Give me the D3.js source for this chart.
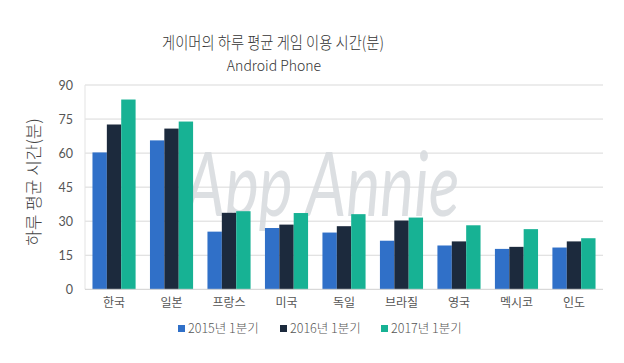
<!DOCTYPE html>
<html><head><meta charset="utf-8">
<script src="https://cdn.jsdelivr.net/npm/d3@7"></script>
<style>
body{margin:0;background:#fff;}
svg{display:block;font-family:"Noto Sans CJK KR","Noto Sans",sans-serif;}
</style></head>
<body><svg id="c" width="624" height="363"></svg>
<script>
const categories = ["한국","일본","프랑스","미국","독일","브라질","영국","멕시코","인도"];
const seriesNames = ["2015년 1분기","2016년 1분기","2017년 1분기"];
const s2015 = [60.3, 65.6, 25.4, 27.0, 25.0, 21.4, 19.3, 17.8, 18.4];
const s2016 = [72.6, 70.8, 33.7, 28.5, 27.8, 30.3, 21.1, 18.7, 21.1];
const s2017 = [83.6, 73.9, 34.4, 33.6, 33.1, 31.6, 28.2, 26.5, 22.5];
const yTicks = [0, 15, 30, 45, 60, 75, 90];
const colors = ["#3070c8", "#1c2a3d", "#17b294"];

const series = [s2015, s2016, s2017];
const svg = d3.select("#c");
const L = 85, R = 603, T = 85, B = 289.3;

const x = d3.scaleBand().domain(categories).range([L, R]).paddingInner(0.25).paddingOuter(0.13);
const xs = d3.scaleBand().domain(d3.range(3)).range([0, x.bandwidth()]);
const y = d3.scaleLinear().domain([0, 90]).range([B, T]);

// title
svg.append("text").attr("x", 273).attr("y", 49).attr("text-anchor", "middle")
  .attr("font-size", 16.5).attr("fill", "#333").attr("font-weight", 300)
  .attr("textLength", 222).attr("lengthAdjust", "spacingAndGlyphs")
  .text("게이머의 하루 평균 게임 이용 시간(분)");
svg.append("text").attr("x", 274).attr("y", 71).attr("text-anchor", "middle")
  .attr("font-size", 14).attr("fill", "#333").attr("font-weight", 300).text("Android Phone");

// gridlines
svg.append("g").selectAll("line").data(yTicks.filter(d => d > 0)).join("line")
  .attr("x1", L).attr("x2", R).attr("y1", d => y(d)).attr("y2", d => y(d))
  .attr("stroke", "#d9d9d9").attr("stroke-width", 1);
svg.append("line").attr("x1", L).attr("x2", L).attr("y1", T).attr("y2", B).attr("stroke", "#e3e3e3");

// watermark
svg.append("text").attr("x", 322).attr("y", 213).attr("text-anchor", "middle")
  .attr("font-family", "Lato, 'DejaVu Sans', sans-serif").attr("font-style", "italic").attr("font-weight", 400)
  .attr("font-size", 80).attr("fill", "#d6d9dd").attr("fill-opacity", 0.85)
  .attr("transform", "translate(322,185) scale(0.8,1.12) translate(-322,-185)")
  .text("App Annie");

// y axis
const yAxis = d3.axisLeft(y).tickValues(yTicks).tickSize(0).tickPadding(12);
const ga = svg.append("g").attr("transform", `translate(${L},0)`).call(yAxis);
ga.select(".domain").remove();
ga.selectAll("text").attr("font-size", 12.5).attr("fill", "#555").attr("font-family", "Lato, 'Noto Sans', sans-serif");

// bars
categories.forEach((c, i) => {
  series.forEach((s, j) => {
    svg.append("rect")
      .attr("x", x(c) + xs(j)).attr("width", xs.bandwidth())
      .attr("y", y(s[i])).attr("height", y(0) - y(s[i]))
      .attr("fill", colors[j]);
  });
});

// baseline
svg.append("line").attr("x1", L).attr("x2", R).attr("y1", B).attr("y2", B).attr("stroke", "#cfcfcf");

// x axis
const xAxis = d3.axisBottom(x).tickSize(0).tickPadding(9);
const gx = svg.append("g").attr("transform", `translate(0,${B})`).call(xAxis);
gx.select(".domain").remove();
gx.selectAll("text").attr("font-size", 12).attr("fill", "#555").attr("font-family", "'Noto Sans CJK KR', sans-serif");

// y title
svg.append("text").attr("transform", "translate(40,182) rotate(-90)").attr("text-anchor", "middle")
  .attr("font-size", 17).attr("fill", "#444").attr("font-weight", 300).text("하루 평균 시간(분)");

// legend
const legX = [178, 280, 381];
seriesNames.forEach((n, j) => {
  svg.append("rect").attr("x", legX[j]).attr("y", 325).attr("width", 7).attr("height", 7).attr("fill", colors[j]);
  svg.append("text").attr("x", legX[j] + 10).attr("y", 333).attr("font-size", 12.5).attr("fill", "#555")
    .attr("font-weight", 300).text(n);
});
</script></body></html>
